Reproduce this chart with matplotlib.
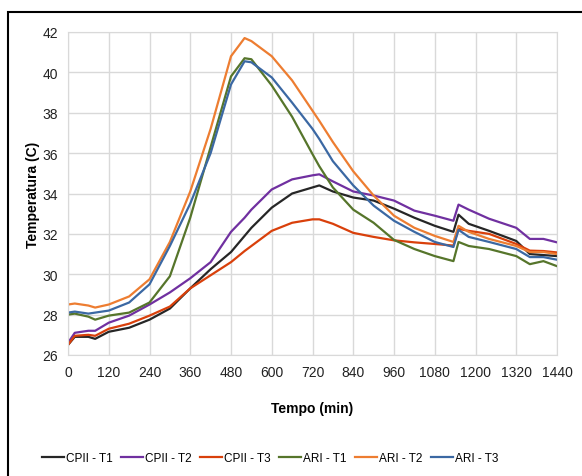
import matplotlib
matplotlib.use('Agg')
import matplotlib.pyplot as plt
from matplotlib.patches import Rectangle

plt.rcParams['font.family'] = ['Liberation Sans', 'DejaVu Sans']

# time (min)
tempo = [0, 20, 60, 80, 120, 180, 240, 300, 360, 420, 480, 520, 540, 600, 660, 720,
         740, 780, 840, 900, 960, 1020, 1080, 1135, 1150, 1180, 1240, 1320, 1360, 1400, 1440]

# temperatures (C)
cpii_t1 = [26.5, 26.9, 26.9, 26.8, 27.15, 27.35, 27.75, 28.3, 29.3, 30.25, 31.1, 31.9, 32.3, 33.3, 34.0, 34.3,
           34.4, 34.1, 33.8, 33.65, 33.25, 32.8, 32.4, 32.1, 32.95, 32.5, 32.15, 31.65, 31.0, 30.95, 30.9]
cpii_t2 = [26.6, 27.1, 27.2, 27.2, 27.6, 27.95, 28.5, 29.1, 29.8, 30.6, 32.1, 32.8, 33.2, 34.2, 34.7, 34.9,
           34.95, 34.6, 34.1, 33.9, 33.65, 33.15, 32.9, 32.65, 33.45, 33.2, 32.75, 32.3, 31.75, 31.75, 31.58]
cpii_t3 = [26.5, 26.95, 27.0, 26.95, 27.3, 27.55, 27.95, 28.4, 29.3, 29.95, 30.6, 31.15, 31.4, 32.15, 32.55, 32.72,
           32.72, 32.5, 32.05, 31.85, 31.68, 31.58, 31.5, 31.42, 32.25, 32.15, 32.0, 31.5, 31.17, 31.15, 31.08]
ari_t1 = [28.0, 28.05, 27.9, 27.75, 27.95, 28.1, 28.6, 29.9, 32.8, 36.3, 39.8, 40.7, 40.65, 39.35, 37.8, 35.95,
          35.35, 34.3, 33.2, 32.55, 31.7, 31.25, 30.9, 30.65, 31.6, 31.4, 31.25, 30.9, 30.5, 30.65, 30.4]
ari_t2 = [28.5, 28.55, 28.45, 28.35, 28.5, 28.9, 29.75, 31.6, 34.1, 37.2, 40.8, 41.7, 41.55, 40.8, 39.6, 38.1,
          37.6, 36.55, 35.1, 33.9, 32.9, 32.3, 31.9, 31.6, 32.4, 32.1, 31.75, 31.4, 31.1, 31.1, 31.0]
ari_t3 = [28.1, 28.15, 28.05, 28.1, 28.2, 28.6, 29.5, 31.4, 33.5, 36.0, 39.4, 40.55, 40.5, 39.75, 38.5, 37.2,
          36.7, 35.6, 34.4, 33.4, 32.65, 32.1, 31.6, 31.35, 32.2, 31.85, 31.6, 31.25, 30.85, 30.85, 30.72]

labels = ['CPII - T1', 'CPII - T2', 'CPII - T3', 'ARI - T1', 'ARI - T2', 'ARI - T3']
series = [cpii_t1, cpii_t2, cpii_t3, ari_t1, ari_t2, ari_t3]
colors = ['#262626', '#7030a0', '#d9400b', '#56752b', '#ed7d31', '#3b68a3']

xticks = list(range(0, 1441, 120))
yticks = list(range(26, 43, 2))

fig = plt.figure(figsize=(5.82, 4.77), dpi=100)
ax = fig.add_axes([68/582, 1-356/477, (557-68)/582, (356-33)/477])

for y, c, lab in zip(series, colors, labels):
    ax.plot(tempo, y, color=c, lw=1.6, label=lab)

ax.set_xlim(0, 1440)
ax.set_ylim(26, 42)
ax.set_xticks(xticks)
ax.set_yticks(yticks)
ax.grid(True, color='#d9d9d9', lw=1)
ax.set_axisbelow(True)
for s in ax.spines.values():
    s.set_color('#d9d9d9')
ax.tick_params(length=0, labelsize=10, colors='#222222', pad=7)

ax.set_xlabel('Tempo (min)', fontsize=10, fontweight='bold', labelpad=16)
ax.set_ylabel('Temperatura (C)', fontsize=10, fontweight='bold', labelpad=2)

#outer frame (cut at right/bottom)
fig.patches.append(Rectangle((8/582, -0.1), 1.2, 1-13/477+0.1, transform=fig.transFigure,
                             fill=False, edgecolor='black', lw=1.5))

fig.legend(loc='center', bbox_to_anchor=(270/582, 1-459/477), ncol=6, frameon=False,
           fontsize=8.5, handlelength=1.9, handletextpad=0.15, columnspacing=0.7)

fig.savefig('out.png', dpi=100)
